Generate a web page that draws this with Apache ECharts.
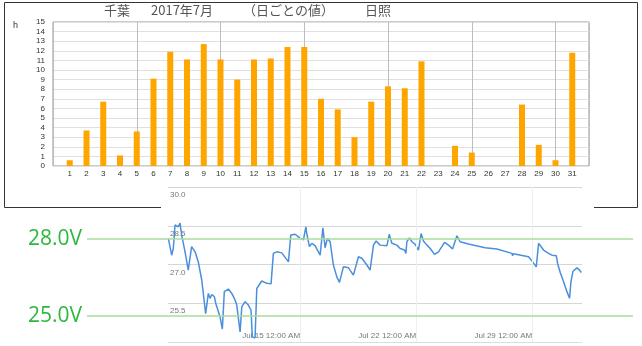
<!DOCTYPE html>
<html>
<head>
<meta charset="utf-8">
<script src="https://cdn.jsdelivr.net/npm/echarts@6/dist/echarts.min.js"></script>
<style>
html, body { margin: 0; padding: 0; background: #fff; }
#main { width: 642px; height: 346px; }
</style>
</head>
<body>
<div id="main"></div>
<script>
// 千葉 2017年7月 日照 (h)
var days = [1, 2, 3, 4, 5, 6, 7, 8, 9, 10, 11, 12, 13, 14, 15, 16,
            17, 18, 19, 20, 21, 22, 23, 24, 25, 26, 27, 28, 29, 30, 31];
var sunHours = [0.6, 3.7, 6.7, 1.1, 3.6, 9.1, 11.9, 11.1, 12.7, 11.1, 9.0, 11.1, 11.2, 12.4, 12.4, 7.0,
                5.9, 3.0, 6.7, 8.3, 8.1, 10.9, 0, 2.1, 1.4, 0, 0, 6.4, 2.2, 0.6, 11.8];

// battery voltage readings
var voltReadings = [
  ['2017-07-07 01:20', 28.01], ['2017-07-07 06:10', 27.36], ['2017-07-07 08:30', 27.62],
  ['2017-07-07 11:00', 28.53], ['2017-07-07 13:30', 28.59], ['2017-07-07 15:40', 28.46],
  ['2017-07-07 18:10', 28.60], ['2017-07-07 20:40', 28.14], ['2017-07-08 01:30', 27.49],
  ['2017-07-08 06:10', 26.78], ['2017-07-08 11:00', 27.69], ['2017-07-08 16:00', 27.49],
  ['2017-07-08 20:40', 27.10], ['2017-07-09 01:40', 26.40], ['2017-07-09 07:20', 25.10],
  ['2017-07-09 11:10', 25.88], ['2017-07-09 13:40', 25.69], ['2017-07-09 16:10', 25.84],
  ['2017-07-09 20:00', 25.75], ['2017-07-09 22:00', 25.49], ['2017-07-10 00:50', 25.43],
  ['2017-07-10 04:10', 24.97], ['2017-07-10 07:30', 24.50], ['2017-07-10 10:20', 25.95],
  ['2017-07-10 16:10', 26.05], ['2017-07-10 21:10', 25.88], ['2017-07-11 02:00', 25.62],
  ['2017-07-11 04:20', 25.43], ['2017-07-11 09:10', 24.39], ['2017-07-11 11:40', 25.36],
  ['2017-07-11 16:20', 25.56], ['2017-07-11 21:10', 25.43], ['2017-07-12 01:00', 25.23],
  ['2017-07-12 02:50', 24.20], ['2017-07-12 06:50', 24.16], ['2017-07-12 09:20', 26.07],
  ['2017-07-12 16:30', 26.36], ['2017-07-12 23:50', 26.27], ['2017-07-13 06:00', 26.25],
  ['2017-07-13 09:20', 27.43], ['2017-07-13 14:20', 27.49], ['2017-07-13 21:30', 27.45],
  ['2017-07-14 07:10', 27.10], ['2017-07-14 10:30', 28.14], ['2017-07-14 16:50', 28.17],
  ['2017-07-14 21:30', 28.07], ['2017-07-15 04:50', 27.95], ['2017-07-15 08:20', 28.46],
  ['2017-07-15 09:40', 28.20], ['2017-07-15 13:30', 27.69], ['2017-07-15 17:00', 27.82],
  ['2017-07-15 21:40', 27.73], ['2017-07-16 05:00', 27.36], ['2017-07-16 09:00', 28.42],
  ['2017-07-16 12:10', 27.65], ['2017-07-16 15:30', 28.01], ['2017-07-16 19:30', 27.88],
  ['2017-07-17 00:10', 26.98], ['2017-07-17 05:10', 26.52], ['2017-07-17 09:00', 26.31],
  ['2017-07-17 14:40', 26.91], ['2017-07-17 22:00', 26.87], ['2017-07-18 05:10', 26.59],
  ['2017-07-18 12:30', 27.30], ['2017-07-18 17:20', 27.24], ['2017-07-19 00:40', 26.98],
  ['2017-07-19 05:20', 26.78], ['2017-07-19 10:10', 27.75], ['2017-07-19 14:00', 27.91],
  ['2017-07-19 19:50', 27.75], ['2017-07-20 05:40', 27.73], ['2017-07-20 09:00', 28.17],
  ['2017-07-20 12:50', 27.82], ['2017-07-20 20:00', 27.75], ['2017-07-21 00:50', 27.62],
  ['2017-07-21 07:10', 27.56], ['2017-07-21 09:10', 27.43], ['2017-07-21 10:30', 27.88],
  ['2017-07-21 14:20', 28.03], ['2017-07-21 17:50', 27.88], ['2017-07-21 22:40', 27.78],
  ['2017-07-22 03:20', 27.56], ['2017-07-22 07:10', 28.20], ['2017-07-22 10:30', 27.91],
  ['2017-07-22 15:30', 27.75], ['2017-07-22 20:20', 27.62], ['2017-07-23 02:30', 27.39],
  ['2017-07-23 08:20', 27.49], ['2017-07-23 13:10', 27.69], ['2017-07-23 17:00', 27.86],
  ['2017-07-23 22:50', 27.75], ['2017-07-24 04:40', 27.60], ['2017-07-24 07:30', 27.62],
  ['2017-07-24 11:00', 28.11], ['2017-07-24 15:40', 27.88], ['2017-07-25 03:40', 27.79],
  ['2017-07-26 03:50', 27.65], ['2017-07-26 20:50', 27.60], ['2017-07-27 18:40', 27.43],
  ['2017-07-27 19:30', 27.34], ['2017-07-27 20:30', 27.42], ['2017-07-28 18:40', 27.30],
  ['2017-07-28 23:40', 27.13], ['2017-07-29 05:50', 26.91], ['2017-07-29 09:10', 27.82],
  ['2017-07-29 10:40', 27.75], ['2017-07-29 16:20', 27.56], ['2017-07-29 23:40', 27.43],
  ['2017-07-30 04:30', 27.36], ['2017-07-30 10:50', 27.34], ['2017-07-30 12:40', 27.04],
  ['2017-07-30 16:30', 26.69], ['2017-07-30 21:20', 26.33], ['2017-07-31 02:20', 25.94],
  ['2017-07-31 06:00', 25.69], ['2017-07-31 08:00', 26.33], ['2017-07-31 11:00', 26.74],
  ['2017-07-31 16:40', 26.87], ['2017-07-31 20:30', 26.78], ['2017-07-31 23:00', 26.69]
];
var timeRange = ['2017-07-07 00:50', '2017-08-01 00:00'];
var timeTicks = ['2017-07-15 00:00', '2017-07-22 00:00', '2017-07-29 00:00'];
var thresholds = [28.0, 25.0];
var thresholdLabels = ['28.0V', '25.0V'];

var chart = echarts.init(document.getElementById('main'));

function ts(s) { return +echarts.time.parse(s); }
var barData = days.map(function (d, i) { return [d, sunHours[i]]; });
var voltData = voltReadings.map(function (r) { return [ts(r[0]), r[1]]; });
var tickTimes = timeTicks.map(ts);

var option = {
    animation: false,
    graphic: [
        // frame of the sunshine chart (partly hidden by the voltage plot)
        { type: 'polyline', shape: { points: [[161, 207.5], [4.5, 207.5], [4.5, 2.5], [637.5, 2.5], [637.5, 207.5], [594, 207.5]] },
          style: { stroke: '#333', lineWidth: 1, fill: null } },
        { type: 'text', left: 104, top: 4, style: { text: '千葉', fontSize: 13, fill: '#555', fontFamily: 'Noto Sans CJK JP' } },
        { type: 'text', left: 151, top: 4, style: { text: '2017年7月', fontSize: 13, fill: '#555', fontFamily: 'Noto Sans CJK JP' } },
        { type: 'text', left: 243, top: 4, style: { text: '（日ごとの値）', fontSize: 13, fill: '#555', fontFamily: 'Noto Sans CJK JP' } },
        { type: 'text', left: 365, top: 4, style: { text: '日照', fontSize: 13, fill: '#555', fontFamily: 'Noto Sans CJK JP' } },
        { type: 'text', left: 13, top: 21, style: { text: 'h', fontSize: 9, fill: '#333', fontFamily: 'Liberation Sans' } }
    ],
    grid: [
        { left: 53, top: 22, width: 536, height: 144, show: true, borderColor: '#999', borderWidth: 1, backgroundColor: 'transparent' },
        { left: 168, top: 187, width: 414, height: 155 },
        { left: 87, top: 187, width: 546, height: 155 }
    ],
    xAxis: [
        { type: 'value', gridIndex: 0, min: 0, max: 32, interval: 1,
          axisLine: { show: false }, axisTick: { show: false }, splitLine: { show: false },
          axisLabel: { margin: 4, fontSize: 8, color: '#333', fontFamily: 'Liberation Sans',
                       formatter: function (v) { return (v >= 1 && v <= 31) ? v : ''; } } },
        { type: 'value', gridIndex: 0, min: 0, max: 32, interval: 5, position: 'bottom',
          axisLine: { show: false }, axisTick: { show: false }, axisLabel: { show: false },
          splitLine: { show: true, lineStyle: { color: '#bdbdbd', width: 1 } } },
        { type: 'value', gridIndex: 1, min: ts(timeRange[0]), max: ts(timeRange[1]),
          axisLine: { show: true, lineStyle: { color: '#dcdcdc' } },
          axisTick: { show: false, customValues: tickTimes },
          splitLine: { show: false },
          axisLabel: { inside: true, margin: 2, align: 'right', fontSize: 8, color: '#777',
                       fontFamily: 'Liberation Sans Narrow, Liberation Sans',
                       customValues: tickTimes,
                       formatter: function (v) { var d = new Date(v); return 'Jul ' + d.getDate() + ' 12:00 AM'; } } },
        { type: 'value', gridIndex: 2, min: 0, max: 1, show: false }
    ],
    yAxis: [
        { type: 'value', gridIndex: 0, min: 0, max: 15, interval: 1,
          axisLine: { show: false }, axisTick: { show: false },
          splitLine: { show: true, lineStyle: { color: '#e0e0e0' } },
          axisLabel: { margin: 8, fontSize: 8, color: '#333', fontFamily: 'Liberation Sans' } },
        { type: 'value', gridIndex: 1, min: 24, max: 30, interval: 1.5,
          axisLine: { show: false }, axisTick: { show: false },
          splitLine: { show: true, lineStyle: { color: '#d6d6d6' } },
          axisLabel: { inside: true, margin: 2, verticalAlign: 'top', padding: [4, 0, 0, 0],
                       fontSize: 8, color: '#777', fontFamily: 'Liberation Sans Narrow, Liberation Sans',
                       formatter: function (v) { return v > 24 ? v.toFixed(1) : ''; } } },
        { type: 'value', gridIndex: 2, min: 24, max: 30, show: false }
    ],
    series: [
        { name: '日照', type: 'bar', xAxisIndex: 0, yAxisIndex: 0, barWidth: 6,
          itemStyle: { color: '#ffa500' }, data: barData },
        { name: 'volt', type: 'line', xAxisIndex: 2, yAxisIndex: 1, showSymbol: false, z: 3,
          lineStyle: { color: '#4a8fdc', width: 1.5 }, data: voltData,
          markLine: {
              silent: true, symbol: ['none', 'none'], label: { show: false },
              lineStyle: { color: '#efefef', width: 1, type: 'solid' },
              data: tickTimes.map(function (t) { return { xAxis: t }; })
          } },
        { name: 'limits', type: 'line', xAxisIndex: 3, yAxisIndex: 2, data: [], z: 2,
          markLine: {
              silent: true, symbol: ['none', 'none'],
              lineStyle: { color: '#a8dc9a', width: 1.5, type: 'solid' },
              label: { position: 'start', distance: 5, fontSize: 21, color: '#2db83d', fontFamily: 'Liberation Sans Narrow, Open Sans' },
              data: thresholds.map(function (v, i) { return { yAxis: v, label: { formatter: thresholdLabels[i] } }; })
          } }
    ]
};

chart.setOption(option);
</script>
</body>
</html>
